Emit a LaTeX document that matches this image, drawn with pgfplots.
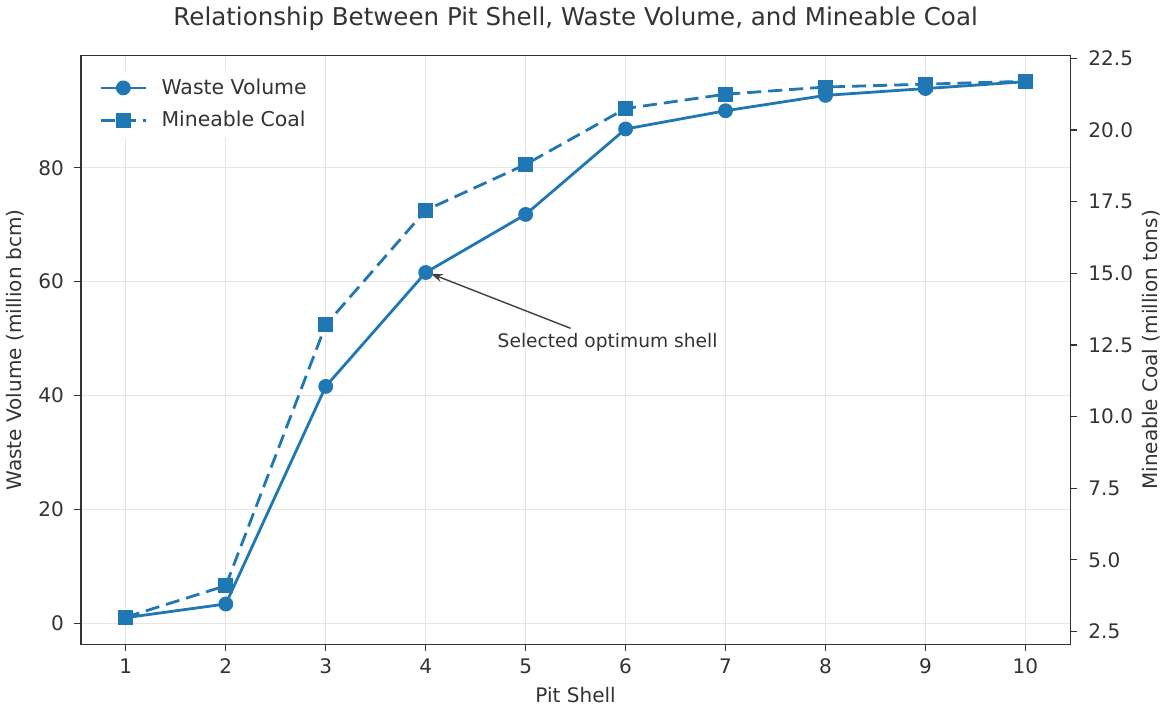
\documentclass[border=0pt]{standalone}
\usepackage{fontspec}
\setmainfont{DejaVu Sans}
\usepackage{pgfplots}
\pgfplotsset{compat=1.18}
\usetikzlibrary{arrows.meta}
\definecolor{mblue}{HTML}{1F77B4}
\definecolor{axgray}{HTML}{333333}
\begin{document}
\begin{tikzpicture}[font=\fontsize{10}{12}\selectfont]
\pgfplotsset{every axis/.append style={
  scale only axis, width=494pt, height=294pt,
  xmin=0.55, xmax=10.45,
  axis line style={axgray, line width=0.7pt},
  tick style={axgray, line width=0.6pt},
  tick align=outside, major tick length=3.5pt,
  /pgf/number format/assume math mode=true,
  tick label style={font=\fontsize{10}{12}\selectfont, text=axgray},
  label style={font=\fontsize{10}{12}\selectfont, text=axgray},
}}
\begin{axis}[
  ymin=-3.7, ymax=99.7,
  ytick={0,20,40,60,80},
  xtick={1,2,3,4,5,6,7,8,9,10},
  xtick pos=bottom, ytick pos=left,
  yticklabel style={xshift=-1.5pt},
  grid=major, grid style={black!10, line width=0.5pt},
  xlabel={Pit Shell}, ylabel={Waste Volume (million bcm)},
  title={Relationship Between Pit Shell, Waste Volume, and Mineable Coal},
  title style={font=\fontsize{12.25}{14}\selectfont, text=axgray, yshift=3pt},
  legend style={at={(0.012,0.975)}, anchor=north west, draw=none, fill=white,
    font=\fontsize{10.2}{12}\selectfont, text=axgray, row sep=3pt},
  legend cell align=left,
  legend image code/.code={\draw[mark repeat=2,mark phase=2,#1] plot coordinates {(0cm,0cm) (0.4cm,0cm) (0.8cm,0cm)}; \path (0.8cm+5pt,0cm);},
]
\addplot[mblue, line width=1.4pt, mark=*, mark size=3pt, mark options={solid}] coordinates {
(1,1.0) (2,3.4) (3,41.6) (4,61.6) (5,71.8) (6,86.8) (7,90.0) (8,92.7) (9,93.9) (10,95.1)};
\addlegendentry{Waste Volume}
\addlegendimage{mblue, line width=1.4pt, dash pattern=on 7pt off 3.5pt, mark=square*, mark size=3pt, mark options={solid}}
\addlegendentry{Mineable Coal}
\draw[-{Stealth[length=6pt,width=4pt]}, black!75, line width=0.7pt] (axis cs:5.45,51.8) -- (axis cs:4.05,61.4);
\node[font=\fontsize{9.3}{11}\selectfont, text=axgray] at (axis cs:5.82,49.3) {Selected optimum shell};
\end{axis}
\begin{axis}[
  axis y line*=right, axis x line=none,
  ymin=2.05, ymax=22.6,
  ytick={2.5,5,7.5,10,12.5,15,17.5,20,22.5},
  yticklabel style={xshift=2pt, /pgf/number format/.cd, fixed, fixed zerofill, precision=1},
  ylabel={Mineable Coal (million tons)},
  ylabel style={inner sep=1pt},
]
\addplot[mblue, line width=1.4pt, dash pattern=on 7pt off 3.5pt, mark=square*, mark size=3pt, mark options={solid}] coordinates {
(1,3.0) (2,4.1) (3,13.2) (4,17.2) (5,18.8) (6,20.75) (7,21.25) (8,21.5) (9,21.6) (10,21.7)};
\end{axis}
\end{tikzpicture}
\end{document}
